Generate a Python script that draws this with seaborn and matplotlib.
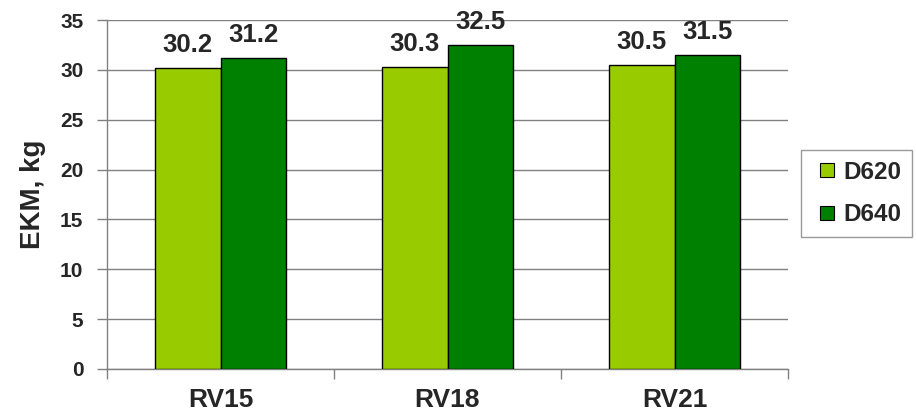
import matplotlib
matplotlib.use("Agg")
import matplotlib.pyplot as plt
from matplotlib.lines import Line2D
from matplotlib.ticker import FixedLocator
import seaborn as sns
import pandas as pd

categories = ["RV15", "RV18", "RV21"]
series_names = ["D620", "D640"]
d620_values = [30.2, 30.3, 30.5]
d640_values = [31.2, 32.5, 31.5]
series_colors = ["#99CC00", "#008000"]

df = pd.DataFrame({
    "cat": categories * 2,
    "series": [series_names[0]] * 3 + [series_names[1]] * 3,
    "value": d620_values + d640_values,
})

sns.set_theme(style="white")
plt.rcParams["font.family"] = ["Liberation Sans", "DejaVu Sans"]
plt.rcParams["font.weight"] = "bold"

fig = plt.figure(figsize=(9.16, 4.18), dpi=100)
ax = fig.add_axes([107 / 916, 49 / 418, 681 / 916, 349 / 418])

sns.barplot(data=df, x="cat", y="value", hue="series", order=categories,
            hue_order=series_names, palette=series_colors, width=0.577,
            gap=0, edgecolor="black", linewidth=1, saturation=1,
            legend=False, ax=ax, zorder=3)

# value labels above each bar
for cont in ax.containers:
    ax.bar_label(cont, fmt="%.1f", padding=8, fontsize=18.5,
                 fontweight="bold")

ax.set_xlim(-0.5, 2.5)
ax.set_ylim(0, 35)
ax.set_yticks(range(0, 36, 5))
ax.yaxis.grid(True, color="#808080", linewidth=1, zorder=0)
ax.set_axisbelow(True)

for side in ("top", "right"):
    ax.spines[side].set_visible(False)
for side in ("left", "bottom"):
    ax.spines[side].set_color("#808080")
    ax.spines[side].set_linewidth(1)

ax.tick_params(axis="y", which="major", left=True, length=7, color="#808080",
               width=1, labelsize=15, pad=10)
ax.tick_params(axis="x", which="major", bottom=False, labelsize=19, pad=8)
ax.xaxis.set_minor_locator(FixedLocator([-0.5, 0.5, 1.5, 2.5]))
ax.tick_params(axis="x", which="minor", bottom=True, length=7,
               color="#808080", width=1)
for lbl in ax.get_xticklabels() + ax.get_yticklabels():
    lbl.set_fontweight("bold")

ax.set_xlabel("")
ax.set_ylabel("EKM, kg", fontsize=20, fontweight="bold", labelpad=10)

handles = [Line2D([], [], linestyle="none", marker="s", markersize=10,
                  markerfacecolor=c, markeredgecolor="black",
                  markeredgewidth=0.8) for c in series_colors]
leg = fig.legend(handles, series_names, loc="upper left",
                 bbox_to_anchor=(801 / 916, 1 - 150 / 418),
                 frameon=True, fancybox=False, shadow=False,
                 prop={"size": 17.5, "weight": "bold"},
                 handlelength=1.2, handletextpad=0.1, labelspacing=0.8,
                 borderpad=0.45, borderaxespad=0)
leg.get_frame().set_edgecolor("#808080")
leg.get_frame().set_linewidth(1)

fig.savefig("out.png", dpi=100)
